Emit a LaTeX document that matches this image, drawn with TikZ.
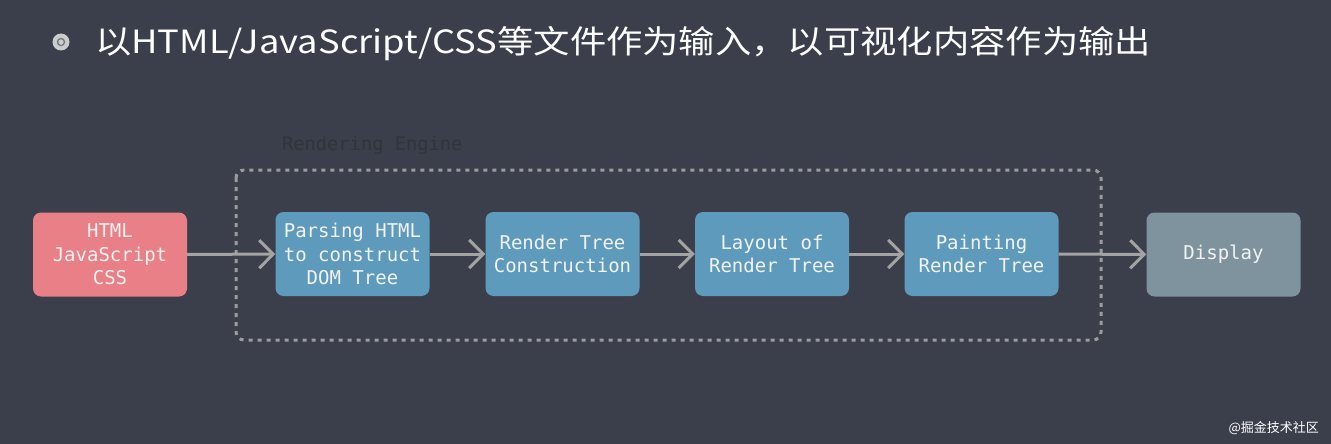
\documentclass[tikz,border=0pt]{standalone}
\usepackage{fontspec}
\setmainfont{DejaVu Sans}
\newfontfamily\mono{DejaVu Sans Mono}
\newfontfamily\cjk{Noto Sans CJK SC}
\usetikzlibrary{arrows.meta}
\definecolor{bg}{HTML}{3A3F4B}
\definecolor{boxblue}{HTML}{5E9ABB}
\definecolor{boxpink}{HTML}{E97F87}
\definecolor{boxgray}{HTML}{7E939D}
\definecolor{arrowgray}{HTML}{A3A3A3}
\definecolor{dotgray}{HTML}{9C9C9C}
\definecolor{labeldark}{HTML}{30343B}
\definecolor{txt}{HTML}{F2F2F2}
\tikzset{
  stepbox/.style={rounded corners=8pt, minimum width=154pt, minimum height=84pt,
    inner sep=0pt, align=center, text=txt,
    font=\mono\fontsize{19}{23.5}\selectfont},
  flow/.style={draw=arrowgray, line width=3pt,
    -{Straight Barb[length=14pt, width=28pt, line width=3pt]}},
}
\begin{document}
\begin{tikzpicture}[x=1pt, y=-1pt]
\useasboundingbox[fill=bg] (0,0) rectangle (1331,444);
% bullet
\fill[gray!40] (61,42) circle (8.5pt);
\draw[bg!70, line width=1.4pt] (61,42) circle (3.5pt);
\fill[gray!40] (61.5,43) circle (1.8pt);
% title
\node[anchor=west, inner sep=0pt, text=white, font=\cjk\fontsize{32}{36}\selectfont] (title) at (95,44)
  {\scalebox{1.135}[1]{以HTML/JavaScript/CSS等文件作为输入，以可视化内容作为输出}};
% rendering engine group
\draw[dotgray, line width=3pt, dash pattern=on 4pt off 5pt, rounded corners=8pt] (236,170) rectangle (1101,340);
\node[anchor=west, inner sep=0pt, text=labeldark, font=\mono\fontsize{18.7}{20}\selectfont] (eng) at (282,145) {Rendering Engine};
% boxes
\node[stepbox, fill=boxpink] (src) at (110,254.5) {HTML\\JavaScript\\CSS};
\node[stepbox, fill=boxblue] (parse) at (352.5,254) {Parsing HTML\\to construct\\DOM Tree};
\node[stepbox, fill=boxblue] (rtc) at (562.5,254) {Render Tree\\Construction};
\node[stepbox, fill=boxblue] (layout) at (772,254) {Layout of\\Render Tree};
\node[stepbox, fill=boxblue] (paint) at (981.5,254) {Painting\\Render Tree};
\node[stepbox, fill=boxgray] (disp) at (1223.5,254.5) {Display};
% connectors
\draw[flow] (src) -- (parse);
\draw[flow] (parse) -- (rtc);
\draw[flow] (rtc) -- (layout);
\draw[flow] (layout) -- (paint);
\draw[flow] (paint) -- (disp);
% watermark
\node[anchor=east, inner sep=0pt, text=white!90, font=\cjk\fontsize{13}{14}\selectfont] (wm) at (1319,428) {@掘金技术社区};
\end{tikzpicture}
\end{document}
